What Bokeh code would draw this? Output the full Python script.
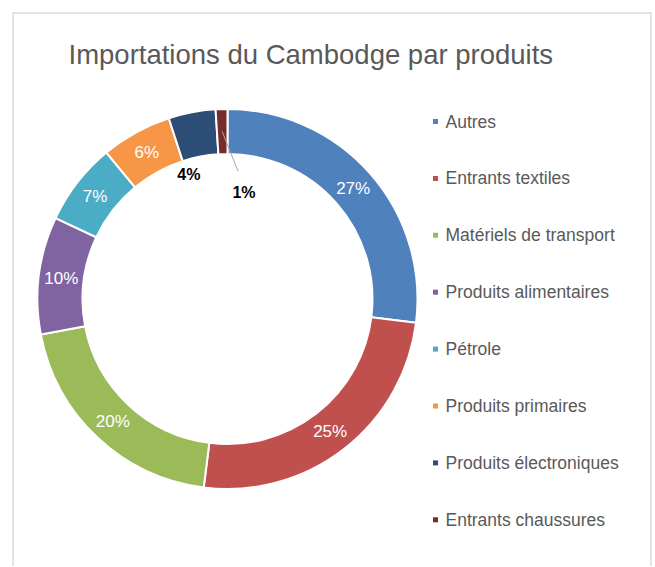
import math
from bokeh.plotting import figure
from bokeh.models import Range1d
from bokeh.core.properties import value
from bokeh.embed import file_html
from bokeh.resources import INLINE

# ---- data ----
categories = ["Autres", "Entrants textiles", "Matériels de transport",
              "Produits alimentaires", "Pétrole", "Produits primaires",
              "Produits électroniques", "Entrants chaussures"]
shares = [27, 25, 20, 10, 7, 6, 4, 1]
colors = ["#4F81BD", "#C0504D", "#9BBB59", "#8064A2",
          "#4BACC6", "#F79646", "#2C4D75", "#772C2A"]
title_text = "Importations du Cambodge par produits"

FONT = "Liberation Sans"
W, H = 654, 566

p = figure(width=W, height=H, output_backend="svg", toolbar_location=None,
           x_range=Range1d(0, W), y_range=Range1d(-H, 0),
           min_border=0, outline_line_color=None)
p.axis.visible = False
p.grid.visible = False
p.background_fill_color = "white"
p.border_fill_color = "white"

# chart box border
p.multi_line(xs=[[12.5, 12.5, 650.5, 650.5]], ys=[[-700, -12.5, -12.5, -700]],
             line_color="#d9d9d9", line_width=1.5)

# donut geometry (screen px, y negated)
cx, cy = 227.0, -298.5
r_out, r_in = 190.0, 145.0
total = float(sum(shares))

starts, ends, mids = [], [], []
cum = 0.0
for v in shares:
    a0 = math.pi / 2 - 2 * math.pi * cum / total
    cum += v
    a1 = math.pi / 2 - 2 * math.pi * cum / total
    starts.append(a0)
    ends.append(a1)
    mids.append((a0 + a1) / 2)

p.annular_wedge(x=cx, y=cy, inner_radius=r_in, outer_radius=r_out,
                start_angle=starts, end_angle=ends, direction="clock",
                fill_color=colors, line_color="white", line_width=2)

# percentage labels
r_mid = (r_in + r_out) / 2
in_x, in_y, in_t = [], [], []
out_x, out_y, out_t = [], [], []
for v, m in zip(shares, mids):
    lab = f"{v}%"
    if v >= 5:
        in_x.append(cx + r_mid * math.cos(m))
        in_y.append(cy + r_mid * math.sin(m))
        in_t.append(lab)
    else:
        # best-fit placement inside the hole
        if v >= 3:
            rr, shift = 130.0, math.radians(6.5)
        else:
            rr, shift = 108.0, math.radians(-10.6)
        ang = m + shift
        lx, ly = cx + rr * math.cos(ang), cy + rr * math.sin(ang)
        out_x.append(lx)
        out_y.append(ly)
        out_t.append(lab)
        if v < 3:
            sx, sy = cx + r_mid * math.cos(m), cy + r_mid * math.sin(m)
            p.segment(x0=[sx], y0=[sy], x1=[lx - 6], y1=[ly + 21],
                      line_color="#a6a6a6", line_width=1)

p.text(x=in_x, y=in_y, text=in_t, text_color="white",
       text_font=value(FONT), text_font_size=value("17px"),
       text_align="center", text_baseline="middle")
p.text(x=out_x, y=out_y, text=out_t, text_color="#000000",
       text_font=value(FONT), text_font_size=value("16px"),
       text_font_style="bold", text_align="center", text_baseline="middle")

# title
p.text(x=[68], y=[-54], text=[title_text], text_color="#595959",
       text_font=value(FONT), text_font_size=value("27.5px"),
       text_align="left", text_baseline="middle")

# legend
leg_y0, leg_dy = -121.0, -56.9
ly = [leg_y0 + i * leg_dy for i in range(len(categories))]
p.scatter(x=[435] * len(categories), y=ly, marker="square", size=5,
          fill_color=colors, line_color=None)
p.text(x=[445] * len(categories), y=ly, text=categories, text_color="#595959",
       text_font=value(FONT), text_font_size=value("17.5px"),
       text_align="left", text_baseline="middle")

open("out.html", "w").write(file_html(p, INLINE))
